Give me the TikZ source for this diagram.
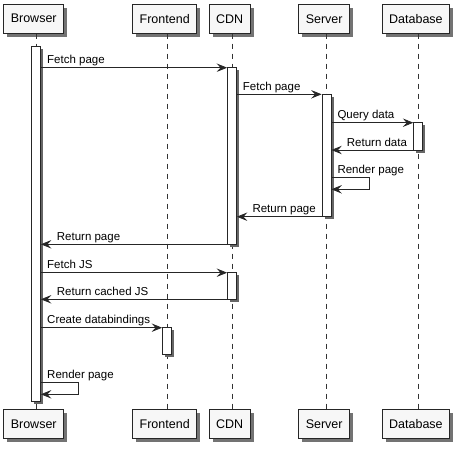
\documentclass[tikz,border=0pt]{standalone}
\usepackage{fontspec}
\setmainfont{Liberation Sans}
\usetikzlibrary{arrows.meta,shadows}
\begin{document}
\begin{tikzpicture}[x=1pt,y=-1pt,
  part/.style={draw=black!85, fill=black!3, line width=0.9pt, minimum height=29pt,
    inner xsep=7pt, inner ysep=0pt, font=\fontsize{12.5}{14}\selectfont,
    drop shadow={shadow xshift=3.5pt, shadow yshift=-3.5pt, fill=black!55, opacity=1}},
  actbar/.style={draw=black!85, fill=white, line width=0.8pt, minimum width=9pt, inner sep=0pt,
    drop shadow={shadow xshift=2.5pt, shadow yshift=-2.5pt, fill=black!60, opacity=1}},
  life/.style={draw=black!80, line width=0.7pt, dash pattern=on 5pt off 5pt},
  msg/.style={draw=black!85, line width=0.8pt, -{Stealth[length=10.5pt,width=8.5pt,inset=4pt,fill=black!85]}},
  lbl/.style={anchor=base west, inner sep=0pt, font=\fontsize{11.5}{13}\selectfont}]
\useasboundingbox (0,0) rectangle (462,450);
% participants (top)
\node[part] (Bt) at (33.7,18.7) {Browser};
\node[part] (Ft) at (164.7,18.7) {Frontend};
\node[part] (Ct) at (229.7,18.7) {CDN};
\node[part] (St) at (324.2,18.7) {Server};
\node[part] (Dt) at (415.9,18.7) {Database};
% lifeline endpoints
\coordinate (Ba) at (36,33.5);   \coordinate (Bb) at (36,409);
\coordinate (Fa) at (167,33.5);  \coordinate (Fb) at (167,409);
\coordinate (Ca) at (232,33.5);  \coordinate (Cb) at (232,409);
\coordinate (Sa) at (326.5,33.5);\coordinate (Sb) at (326.5,409);
\coordinate (Da) at (418.2,33.5);\coordinate (Db) at (418.2,409);
\draw[life] (Ba) -- (Bb);
\draw[life] (Fa) -- (Fb);
\draw[life] (Ca) -- (Cb);
\draw[life] (Sa) -- (Sb);
\draw[life] (Da) -- (Db);
% activation bars
\node[actbar, minimum height=355pt] (B1) at (36,224) {};
\node[actbar, minimum height=176.6pt] (C1) at (232,156) {};
\node[actbar, minimum height=122.4pt] (S1) at (326.5,155.5) {};
\node[actbar, minimum height=27.3pt] (D1) at (418.2,136.35) {};
\node[actbar, minimum height=26.6pt] (C2) at (232,286) {};
\node[actbar, minimum height=26.6pt] (F1) at (167,341) {};
% messages
\draw[msg] (B1.east |- 0,67.7) -- (C1.west |- 0,67.7);
\node[lbl] (m1) at (47,63.7) {Fetch page};
\draw[msg] (C1.east |- 0,94.3) -- (S1.west |- 0,94.3);
\node[lbl] (m2) at (242.7,90.3) {Fetch page};
\draw[msg] (S1.east |- 0,122.7) -- (D1.west |- 0,122.7);
\node[lbl] (m3) at (337.3,118.7) {Query data};
\draw[msg] (D1.west |- 0,150) -- (S1.east |- 0,150);
\node[lbl] (m4) at (346.7,146) {Return data};
\coordinate (r1) at (369.3,177.7);
\coordinate (r2) at (369.3,189.3);
\draw[msg] (S1.east |- r1) -- (r1) -- (r2) -- (S1.east |- r2);
\node[lbl] (m5) at (337.3,173.7) {Render page};
\draw[msg] (S1.west |- 0,216.7) -- (C1.east |- 0,216.7);
\node[lbl] (m6) at (252.3,212.7) {Return page};
\draw[msg] (C1.west |- 0,244.3) -- (B1.east |- 0,244.3);
\node[lbl] (m7) at (56.7,240.3) {Return page};
\draw[msg] (B1.east |- 0,272.7) -- (C2.west |- 0,272.7);
\node[lbl] (m8) at (47,268.7) {Fetch JS};
\draw[msg] (C2.west |- 0,299.3) -- (B1.east |- 0,299.3);
\node[lbl] (m9) at (56.7,295.3) {Return cached JS};
\draw[msg] (B1.east |- 0,327.7) -- (F1.west |- 0,327.7);
\node[lbl] (m10) at (47,323.7) {Create databindings};
\coordinate (q1) at (78.7,382.7);
\coordinate (q2) at (78.7,394.3);
\draw[msg] (B1.east |- q1) -- (q1) -- (q2) -- (B1.east |- q2);
\node[lbl] (m11) at (47,378.7) {Render page};
% participants (bottom)
\node[part] (Bz) at (33.7,423.8) {Browser};
\node[part] (Fz) at (164.7,423.8) {Frontend};
\node[part] (Cz) at (229.7,423.8) {CDN};
\node[part] (Sz) at (324.2,423.8) {Server};
\node[part] (Dz) at (415.9,423.8) {Database};
\end{tikzpicture}
\end{document}
